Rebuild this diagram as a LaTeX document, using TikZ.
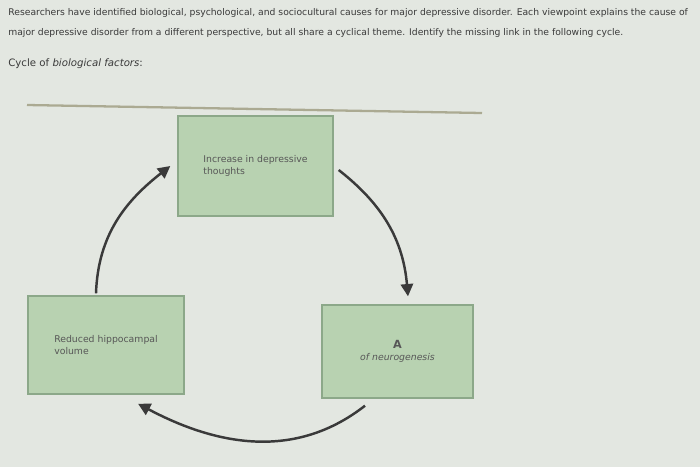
\documentclass[tikz,border=0pt]{standalone}
\usepackage{fontspec}
\setmainfont{DejaVu Sans}
\usetikzlibrary{arrows.meta,positioning}
\definecolor{bg}{HTML}{E3E7E1}
\definecolor{boxfill}{HTML}{B8D2B1}
\definecolor{boxline}{HTML}{8CA889}
\definecolor{ink}{HTML}{3A3A3A}
\definecolor{rulecol}{HTML}{ABAA92}
\tikzset{
  cause/.style={draw=boxline, line width=0.8pt, fill=boxfill, align=left, text=ink!85, font=\fontsize{5.3}{7}\selectfont},
  cyc/.style={draw=ink, line width=1.4pt, -{Triangle[length=7pt,width=7pt]}},
  head/.style={anchor=west, text=ink, inner sep=0pt, font=\fontsize{5.25}{6.5}\selectfont}
}

\begin{document}
\begin{tikzpicture}[x=0.02cm,y=-0.02cm]
    \fill[bg] (0,0) rectangle (700,467);
    \useasboundingbox (0,0) rectangle (700,467);

    \node[head] (l1) at (8,13) {Researchers have identified biological, psychological, and sociocultural causes for major depressive disorder. Each viewpoint explains the cause of};
    \node[head] (l2) at (8,33) {major depressive disorder from a different perspective, but all share a cyclical theme. Identify the missing link in the following cycle.};
    \node[head, font=\fontsize{5.8}{7}\selectfont] (cy) at (8,64) {Cycle of \textit{biological factors}:};
    \draw[rulecol, line width=1.3pt] (27,105) -- (482,113);

    \node[cause, minimum width=3.1cm, minimum height=2cm] (up) at (255.5,166) {Increase in depressive\\thoughts};
    \node[cause, minimum width=3.12cm, minimum height=1.96cm] (lo) at (106,345) {Reduced hippocampal\\volume};
    \node[cause, minimum width=3.02cm, minimum height=1.86cm, align=center] (rt) at (397.5,351.5) {{\fontsize{6.4}{7}\selectfont\textbf{A}}\\\textit{of neurogenesis}};

    \draw[cyc] ([xshift=-0.2cm,yshift=0.04cm]lo.north) to[out=88,in=218] ([xshift=-0.14cm]up.west);
    \draw[cyc] ([xshift=0.1cm,yshift=-0.08cm]up.east) to[out=-38,in=95] ([xshift=0.21cm,yshift=0.16cm]rt.north);
    \draw[cyc] ([xshift=-0.65cm,yshift=-0.14cm]rt.south) to[out=218,in=-28] ([xshift=0.64cm,yshift=-0.18cm]lo.south);
\end{tikzpicture}
\end{document}
